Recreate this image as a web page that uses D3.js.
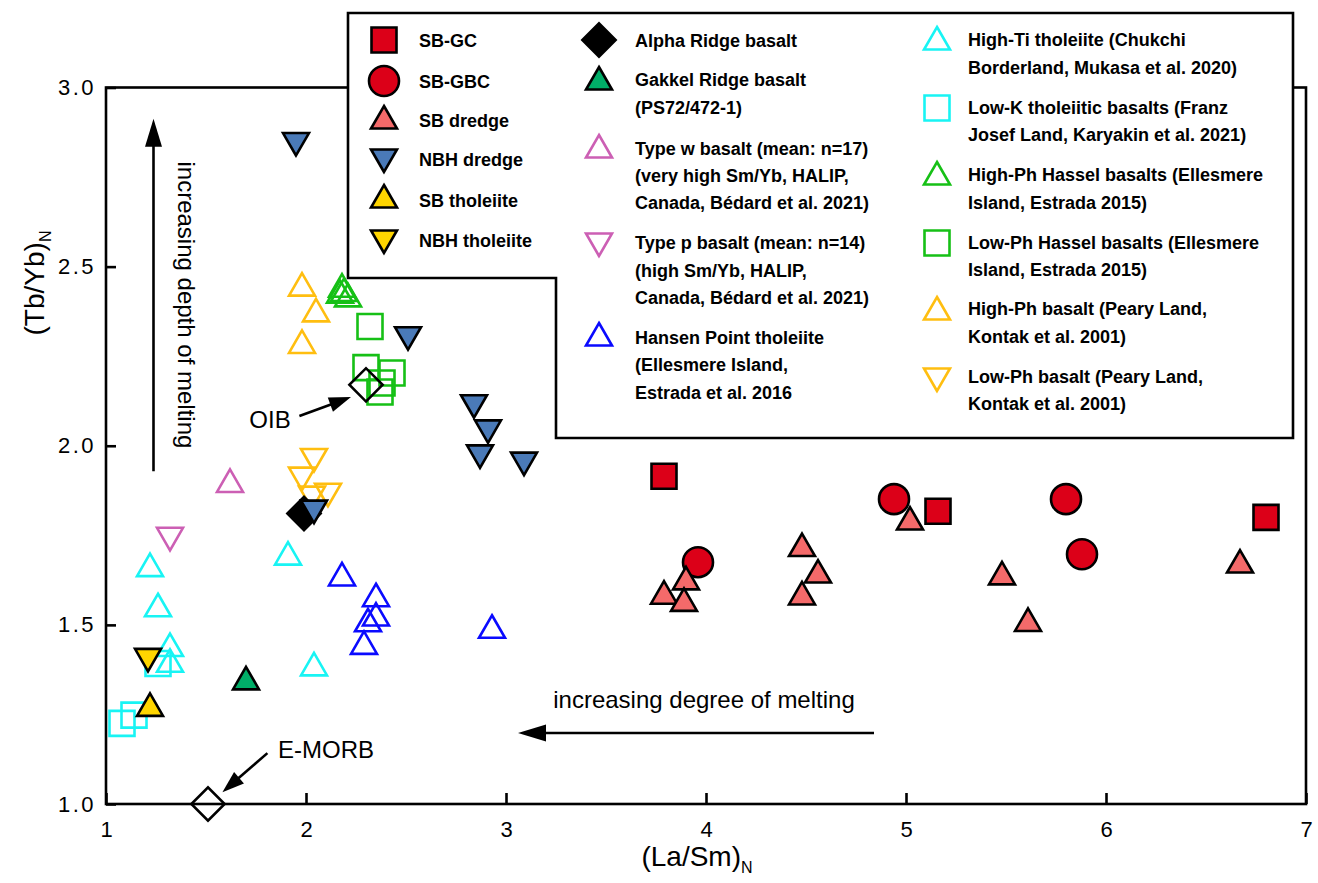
<!DOCTYPE html>
<html><head><meta charset="utf-8">
<script src="https://cdn.jsdelivr.net/npm/d3@7"></script>
<style>
body{margin:0;background:#fff;}
text{font-family:"Liberation Sans",Arial,Helvetica,sans-serif;}
</style>
</head><body>
<svg id="chart" width="1318" height="883"></svg>
<script>
// ---------------- DATA ----------------
const xTickValues = [1, 2, 3, 4, 5, 6, 7];
const yTickValues = [1.0, 1.5, 2.0, 2.5, 3.0];

const sbGC       = [[3.79,1.915],[5.16,1.817],[6.80,1.80]];
const sbGBC      = [[4.94,1.851],[5.80,1.851],[5.88,1.697],[3.96,1.675]];
const sbDredge   = [[3.79,1.58],[3.90,1.62],[3.89,1.56],[4.48,1.713],[4.56,1.639],[4.48,1.578],[5.02,1.787],[5.48,1.634],[5.61,1.504],[6.67,1.667]];
const nbhDredge  = [[1.95,2.852],[2.84,2.12],[2.91,2.05],[2.87,1.98],[3.09,1.96],[2.51,2.31],[2.04,1.826]];
const sbThol     = [[1.22,1.267]];
const nbhThol    = [[1.21,1.412]];
const alphaRidge = [[1.99,1.811]];
const gakkel     = [[1.70,1.341]];
const typeW      = [[1.62,1.892]];
const typeP      = [[1.32,1.75]];
const hansen     = [[2.18,1.631],[2.35,1.573],[2.35,1.519],[2.31,1.503],[2.29,1.44],[2.93,1.485]];
const highTi     = [[1.22,1.657],[1.26,1.545],[1.32,1.434],[1.32,1.39],[1.91,1.689],[2.04,1.38]];
const lowK       = [[1.08,1.225],[1.14,1.248],[1.26,1.392]];
const highPhHassel = [[2.17,2.42],[2.18,2.437],[2.19,2.425],[2.21,2.41]];
const lowPhHassel  = [[2.32,2.333],[2.30,2.218],[2.43,2.203],[2.38,2.175],[2.37,2.15]];
const highPhPeary  = [[1.98,2.44],[2.05,2.368],[1.98,2.28]];
const lowPhPeary   = [[2.04,1.97],[1.98,1.918],[2.11,1.873],[2.03,1.865]];
const oib   = [[2.30,2.17]];
const emorb = [[1.51,1.00]];

const legendLabels = {
  sbGC: ["SB-GC"], sbGBC: ["SB-GBC"], sbDredge: ["SB dredge"], nbhDredge: ["NBH dredge"],
  sbThol: ["SB tholeiite"], nbhThol: ["NBH tholeiite"],
  alphaRidge: ["Alpha Ridge basalt"], gakkel: ["Gakkel Ridge basalt","(PS72/472-1)"],
  typeW: ["Type w basalt (mean: n=17)","(very high Sm/Yb, HALIP,","Canada, Bédard et al. 2021)"],
  typeP: ["Type p basalt (mean: n=14)","(high Sm/Yb, HALIP,","Canada, Bédard et al. 2021)"],
  hansen: ["Hansen Point tholeiite","(Ellesmere Island,","Estrada et al. 2016"],
  highTi: ["High-Ti tholeiite (Chukchi","Borderland, Mukasa et al. 2020)"],
  lowK: ["Low-K tholeiitic basalts (Franz","Josef Land, Karyakin et al. 2021)"],
  highPhHassel: ["High-Ph Hassel basalts (Ellesmere","Island, Estrada 2015)"],
  lowPhHassel: ["Low-Ph Hassel basalts (Ellesmere","Island, Estrada 2015)"],
  highPhPeary: ["High-Ph basalt (Peary Land,","Kontak et al. 2001)"],
  lowPhPeary: ["Low-Ph basalt (Peary Land,","Kontak et al. 2001)"]
};

// ---------------- STYLES ----------------
const RED="#dc0018", SALMON="#f46a6a", STEEL="#4a7ab8", GOLD="#ffd500", GREENF="#00ae68",
      PINK="#cc5fb4", BLUE="#0a0aff", CYAN="#18f4f4", LGREEN="#16c016", AMBER="#ffbe10";
const styles = {
  sbGC:{shape:"square",fill:RED,stroke:"#000"},
  sbGBC:{shape:"circle",fill:RED,stroke:"#000"},
  sbDredge:{shape:"up",fill:SALMON,stroke:"#000"},
  nbhDredge:{shape:"down",fill:STEEL,stroke:"#000"},
  sbThol:{shape:"up",fill:GOLD,stroke:"#000"},
  nbhThol:{shape:"down",fill:GOLD,stroke:"#000"},
  alphaRidge:{shape:"diamond",fill:"#000",stroke:"#000"},
  gakkel:{shape:"up",fill:GREENF,stroke:"#000"},
  typeW:{shape:"up",fill:"none",stroke:PINK},
  typeP:{shape:"down",fill:"none",stroke:PINK},
  hansen:{shape:"up",fill:"none",stroke:BLUE},
  highTi:{shape:"up",fill:"none",stroke:CYAN},
  lowK:{shape:"square",fill:"none",stroke:CYAN},
  highPhHassel:{shape:"up",fill:"none",stroke:LGREEN},
  lowPhHassel:{shape:"square",fill:"none",stroke:LGREEN},
  highPhPeary:{shape:"up",fill:"none",stroke:AMBER},
  lowPhPeary:{shape:"down",fill:"none",stroke:AMBER},
  oib:{shape:"diamond",fill:"none",stroke:"#000"},
  emorb:{shape:"diamond",fill:"none",stroke:"#000"}
};
const seriesData = {sbGC,sbGBC,sbDredge,nbhDredge,sbThol,nbhThol,alphaRidge,gakkel,typeW,typeP,hansen,highTi,lowK,highPhHassel,lowPhHassel,highPhPeary,lowPhPeary,oib,emorb};
const drawOrder = ["lowK","highTi","typeW","typeP","hansen","highPhHassel","lowPhHassel","highPhPeary","lowPhPeary","gakkel","sbThol","nbhThol","alphaRidge","nbhDredge","sbGBC","sbGC","sbDredge","oib","emorb"];

// ---------------- LAYOUT ----------------
const svg = d3.select("#chart");
const x = d3.scaleLinear().domain([1,7]).range([106,1306]);
const y = d3.scaleLinear().domain([1,3]).range([804,87.5]);

const SIZES = {square:25*25, circle:Math.PI*15*15, tri:292, diamond:23.5*23.5};
function symbolPath(shape){
  if(shape==="square") return d3.symbol().type(d3.symbolSquare).size(SIZES.square)();
  if(shape==="circle") return d3.symbol().type(d3.symbolCircle).size(SIZES.circle)();
  if(shape==="up"||shape==="down") return d3.symbol().type(d3.symbolTriangle).size(SIZES.tri)();
  if(shape==="diamond") return d3.symbol().type(d3.symbolSquare).size(SIZES.diamond)();
}
function symbolRot(shape){ return shape==="down"?180:(shape==="diamond"?45:0); }
function drawSymbol(g, key, px, py){
  const s = styles[key];
  g.append("path")
    .attr("d", symbolPath(s.shape))
    .attr("transform", `translate(${px},${py}) rotate(${symbolRot(s.shape)})`)
    .attr("fill", s.fill)
    .attr("stroke", s.stroke)
    .attr("stroke-width", 2.6)
    .attr("stroke-linejoin","miter");
}

// frame
svg.append("rect").attr("x",x(1)).attr("y",y(3)).attr("width",x(7)-x(1)).attr("height",y(1)-y(3))
  .attr("fill","none").attr("stroke","#000").attr("stroke-width",2.6);

// axes
const xAxis = svg.append("g").attr("transform",`translate(0,${y(1)})`)
  .call(d3.axisBottom(x).tickValues(xTickValues).tickSizeInner(-11).tickSizeOuter(0).tickPadding(17).tickFormat(d3.format("d")));
const yAxis = svg.append("g").attr("transform",`translate(${x(1)},0)`)
  .call(d3.axisLeft(y).tickValues(yTickValues).tickSizeInner(-10).tickSizeOuter(0).tickPadding(10).tickFormat(d3.format(".1f")));
[xAxis,yAxis].forEach(a=>{
  a.select(".domain").remove();
  a.selectAll(".tick line").attr("stroke","#000").attr("stroke-width",2.6);
  a.selectAll(".tick text").attr("fill","#000").style("font-size","22px").style("font-family","'Liberation Sans',Arial,sans-serif");
});
yAxis.selectAll(".tick text").style("letter-spacing","2.5px");

// axis titles
const xt = svg.append("text").attr("x",697).attr("y",866).attr("text-anchor","middle").style("font-size","28px");
xt.append("tspan").text("(La/Sm)");
xt.append("tspan").attr("dy",7).style("font-size","16px").text("N");
const yt = svg.append("text").attr("transform","translate(44,283) rotate(-90)").attr("text-anchor","middle").style("font-size","28px");
yt.append("tspan").text("(Tb/Yb)");
yt.append("tspan").attr("dy",7).style("font-size","16px").text("N");

// annotations (arrows in data units)
const arrows = [
  {from:[1.2375,1.929], to:[1.2375,2.913]},
  {from:[4.84,1.198], to:[3.06,1.198]},
  {from:[1.967,2.083], to:[2.225,2.136]},
  {from:[1.807,1.142], to:[1.582,1.033]}
];
arrows.forEach(a=>{
  const x1=x(a.from[0]), y1=y(a.from[1]), x2=x(a.to[0]), y2=y(a.to[1]);
  const dx=x2-x1, dy=y2-y1, L=Math.hypot(dx,dy), ux=dx/L, uy=dy/L;
  const HL = L>200?28:22, HW = L>200?8.5:7.5;
  const bx=x2-ux*HL, by=y2-uy*HL;
  svg.append("line").attr("x1",x1).attr("y1",y1).attr("x2",bx+ux*2).attr("y2",by+uy*2)
    .attr("stroke","#000").attr("stroke-width",2.6);
  svg.append("path").attr("d",`M${x2},${y2}L${bx-uy*HW},${by+ux*HW}L${bx+uy*HW},${by-ux*HW}Z`).attr("fill","#000");
});
svg.append("text").attr("transform",`translate(178,${(y(2.913)+y(1.929))/2+10}) rotate(90)`).attr("text-anchor","middle")
  .style("font-size","24px").text("increasing depth of melting");
svg.append("text").attr("x",704).attr("y",708).attr("text-anchor","middle").style("font-size","24px").text("increasing degree of melting");
svg.append("text").attr("x",270).attr("y",428).attr("text-anchor","middle").style("font-size","24px").text("OIB");
svg.append("text").attr("x",278).attr("y",758).attr("text-anchor","start").style("font-size","24px").text("E-MORB");

// legend box (L-shaped)
const legendOutline = [[348,13],[1293,13],[1293,438],[556,438],[556,278],[348,278]];
svg.append("path").attr("d", d3.line()(legendOutline)+"Z").attr("fill","#fff").attr("stroke","#000").attr("stroke-width",2.6);

// legend entries
const legendLayout = [
  {key:"sbGC", sx:384, sy:40, tx:419, ly:[40]},
  {key:"sbGBC", sx:384, sy:81, tx:419, ly:[81]},
  {key:"sbDredge", sx:384, sy:121, tx:419, ly:[120]},
  {key:"nbhDredge", sx:384, sy:157, tx:419, ly:[159]},
  {key:"sbThol", sx:384, sy:200, tx:419, ly:[200]},
  {key:"nbhThol", sx:384, sy:238, tx:419, ly:[240]},
  {key:"alphaRidge", sx:599, sy:40, tx:635, ly:[40]},
  {key:"gakkel", sx:599, sy:82, tx:635, ly:[79,107]},
  {key:"typeW", sx:599, sy:150, tx:635, ly:[148,175,202]},
  {key:"typeP", sx:599, sy:241, tx:635, ly:[242,270,297]},
  {key:"hansen", sx:599, sy:338, tx:635, ly:[337,364,392]},
  {key:"highTi", sx:937, sy:42, tx:968, ly:[39,67]},
  {key:"lowK", sx:937, sy:108, tx:968, ly:[107,134]},
  {key:"highPhHassel", sx:937, sy:177, tx:968, ly:[174,202]},
  {key:"lowPhHassel", sx:937, sy:243, tx:968, ly:[242,269]},
  {key:"highPhPeary", sx:937, sy:312, tx:968, ly:[308,336]},
  {key:"lowPhPeary", sx:937, sy:376, tx:968, ly:[376,403]}
];
const lg = svg.append("g");
legendLayout.forEach(e=>{
  drawSymbol(lg, e.key, e.sx, e.sy);
  legendLabels[e.key].forEach((t,i)=>{
    lg.append("text").attr("x",e.tx).attr("y",e.ly[i]+6.5).style("font-size","18px").style("font-weight","bold").text(t);
  });
});

// data points
const pg = svg.append("g");
drawOrder.forEach(key=>{
  seriesData[key].forEach(d=> drawSymbol(pg, key, x(d[0]), y(d[1])));
});
</script>
</body></html>
